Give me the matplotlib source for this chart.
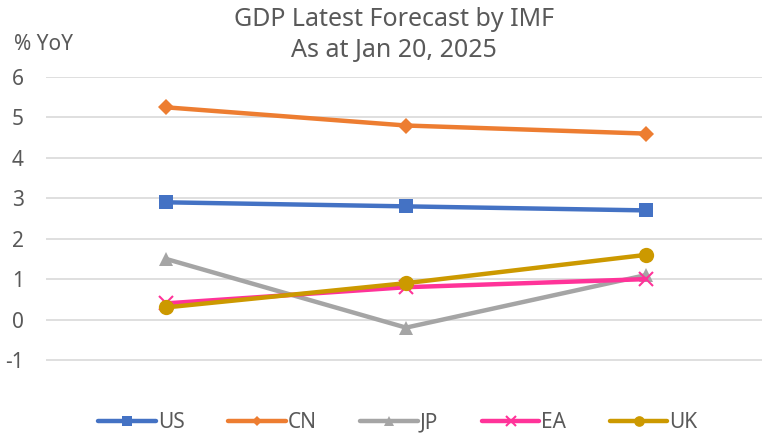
import matplotlib
matplotlib.use("Agg")
import matplotlib.pyplot as plt

categories = ["2023", "2024", "2025"]
series_names = ["US", "CN", "JP", "EA", "UK"]
us = [2.9, 2.8, 2.7]
cn = [5.25, 4.8, 4.6]
jp = [1.5, -0.2, 1.1]
ea = [0.4, 0.8, 1.0]
uk = [0.3, 0.9, 1.6]
yticks = [-1, 0, 1, 2, 3, 4, 5, 6]

colors = ["#4472C4", "#ED7D31", "#A5A5A5", "#FF3399", "#CC9900"]
markers = ["s", "D", "^", "x", "o"]
msizes = [10, 8, 10, 10, 11]

plt.rcParams['font.family'] = ['Noto Sans', 'DejaVu Sans']
txt = "#595959"

fig = plt.figure(figsize=(7.62, 4.33), dpi=100)
ax = fig.add_axes([46/762, (433-400.4)/433, 720/762, (400.4-77)/433])
x = list(range(len(categories)))
for name, vals, c, m, ms in zip(series_names, [us, cn, jp, ea, uk], colors, markers, msizes):
    kw = dict(markeredgewidth=1.5) if m == "x" else dict(markeredgewidth=0)
    ax.plot(x, vals, color=c, lw=3.2, marker=m, markersize=ms,
            markerfacecolor=c, markeredgecolor=c, label=name,
            solid_capstyle='round', clip_on=False, **kw)

ax.set_xlim(-0.5, 2.5)
ax.set_ylim(-2, 6)
ax.set_yticks(yticks)
ax.set_yticklabels([str(v) for v in yticks])
ax.set_xticks([])
for v in yticks:
    ax.axhline(v, color="#D9D9D9", lw=1.2, zorder=0)
for s in ax.spines.values():
    s.set_visible(False)
ax.tick_params(axis='y', length=0, labelsize=15, labelcolor=txt, pad=16)

fig.text(394/762, 1-19/433, "GDP Latest Forecast by IMF", ha='center', va='center', fontsize=18, color=txt)
fig.text(394/762, 1-51/433, "As at Jan 20, 2025", ha='center', va='center', fontsize=18, color=txt)
fig.text(14/762, 1-45/433, "% YoY", ha='left', va='center', fontsize=15, color=txt)

leg = fig.legend(loc='center', bbox_to_anchor=(398/762, 1-423/433), ncol=5, frameon=False,
                 handlelength=2.75, columnspacing=2.1, handletextpad=0.1, fontsize=15,
                 markerscale=0.7)
for t in leg.get_texts():
    t.set_color(txt)

fig.savefig("out.png", dpi=100)
